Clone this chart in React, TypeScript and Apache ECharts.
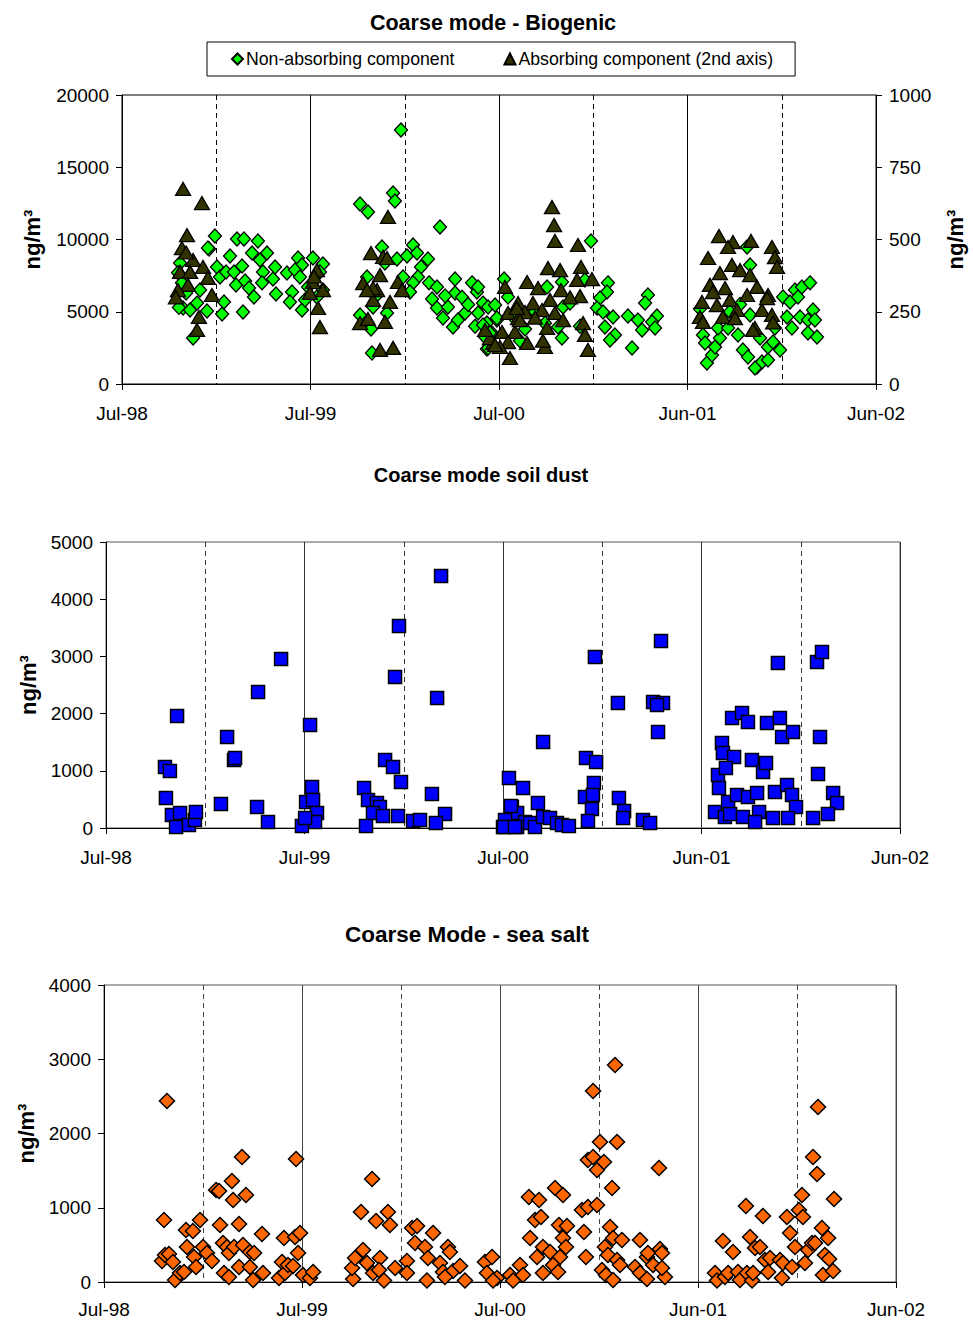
import React, { useEffect, useRef } from "react";
import * as echarts from "echarts";

// ---------- tick labels / titles ----------
const xTickLabels = ["Jul-98", "Jul-99", "Jul-00", "Jun-01", "Jun-02"];
const unitLabel = "ng/m³";
const titleBio = "Coarse mode - Biogenic";
const titleSoil = "Coarse mode soil dust";
const titleSalt = "Coarse Mode - sea salt";
const nameNonAbs = "Non-absorbing component";
const nameAbs = "Absorbing component (2nd axis)";

// x = years since Jul-98, y = concentration (ng/m3)
const bioNonAbsorbing: [number, number][] = [
  [0.493,10240],[0.462,9340],[0.504,8100],[0.308,8370],[0.318,7000],[0.324,5260],[0.361,5120],[0.377,3180],[0.398,5600],[0.414,6500],[0.451,5050],[0.531,4840],[0.541,5670],[0.520,7400],[0.552,7750],[0.573,8860],[0.594,7750],[0.610,10030],[0.647,10030],[0.721,9900],[0.690,9070],[0.637,8170],[0.605,6850],[0.653,7130],[0.674,6640],[0.700,6020],[0.642,4980],[0.732,8580],[0.769,9070],[0.748,7750],[0.801,7270],[0.812,8100],[0.743,7000],[0.817,6230],[0.875,7680],[0.902,6370],[0.891,5670],[0.934,8720],[0.955,8230],[0.918,7890],[0.944,7400],[1.013,8720],[1.066,8300],[0.955,5120],[0.987,6710],[0.971,5810],[1.066,6500],[1.034,6020],[1.050,7750],[0.340,6300],[0.297,7700],[0.456,9410],[0.302,5300],
  [1.263,12460],[1.305,11900],[1.480,17580],[1.438,13220],[1.448,12660],[1.687,10860],[1.379,9480],[1.459,8650],[1.512,8860],[1.544,9620],[1.565,9070],[1.623,8650],[1.586,8100],[1.570,7400],[1.491,7400],[1.544,7000],[1.528,6370],[1.629,7000],[1.671,6710],[1.645,5880],[1.671,5260],[1.703,4570],[1.729,5330],[1.767,7270],[1.756,3940],[1.782,4430],[1.767,6300],[1.820,4910],[1.857,7000],[1.883,6370],[1.889,4910],[1.915,5600],[1.936,4220],[1.942,3040],[1.936,2420],[1.989,4430],[1.963,3530],[1.263,4770],[1.300,7400],[1.332,5330],[1.321,3800],[1.326,2150],[1.406,4910],[1.353,6160],[1.395,8370],[1.804,6000],[1.836,5500],[1.873,4000],[1.714,6100],
  [2.488,9900],[2.027,7270],[1.889,6710],[1.915,4080],[1.942,5330],[1.979,5470],[1.989,4570],[1.926,3250],[1.952,3530],[1.942,2490],[2.048,6020],[2.340,5330],[2.313,3940],[2.334,3180],[2.578,7000],[2.573,6370],[2.536,5950],[2.520,5260],[2.552,4980],[2.605,4640],[2.562,3940],[2.615,3390],[2.589,3040],[2.684,4710],[2.706,2490],[2.790,6160],[2.775,5600],[2.838,4710],[2.812,4290],[2.737,4430],[2.759,3740],[2.828,3880],[2.334,7060],[2.255,6710],[2.456,7200],[2.085,4500],[2.138,3800],[2.191,5000],[2.244,4200],[2.111,3000],[2.430,4000],[2.377,5600],
  [3.332,8230],[3.316,9480],[3.082,3390],[3.093,2840],[3.103,1450],[3.130,2010],[3.146,2560],[3.172,3180],[3.162,3870],[3.215,3870],[3.268,3390],[3.294,2350],[3.321,1870],[3.369,1180],[3.395,1520],[3.427,1660],[3.427,2560],[3.454,2910],[3.491,2350],[3.385,3180],[3.332,4770],[3.464,3870],[3.507,6020],[3.544,5670],[3.570,6500],[3.607,6710],[3.650,7000],[3.586,6020],[3.528,4640],[3.554,3870],[3.597,4640],[3.639,4430],[3.666,5120],[3.676,4430],[3.639,3530],[3.687,3250],[3.358,1110],[3.225,5000],[3.279,5500],[3.066,5200],
];

// second axis (0-1000)
const bioAbsorbing: [number, number][] = [
  [0.324,675],[0.424,626],[0.345,515],[0.318,470],[0.377,429],[0.308,388],[0.361,388],[0.430,405],[0.456,367],[0.350,343],[0.297,325],[0.477,308],[0.408,232],[0.398,187],[0.340,455],[0.286,300],
  [1.034,394],[1.013,353],[1.066,325],[1.040,263],[1.050,197],[0.997,315],[1.019,372],
  [1.411,578],[1.321,453],[1.385,440],[1.406,436],[1.279,349],[1.369,377],[1.353,325],[1.464,353],[1.485,325],[1.422,284],[1.332,291],[1.263,211],[1.305,225],[1.395,215],[1.369,118],[1.438,125],[1.332,332],[1.300,325],
  [2.281,612],[2.292,550],[2.297,495],[2.419,481],[2.260,401],[2.324,394],[2.435,405],[2.149,353],[2.032,336],[2.207,332],[2.414,360],[2.493,363],[2.329,325],[2.430,304],[2.101,280],[2.180,280],[2.271,291],[2.048,246],[2.138,249],[2.228,256],[2.297,246],[2.101,228],[2.340,221],[2.016,180],[2.085,180],[2.255,194],[2.446,211],[2.149,142],[2.244,128],[2.456,170],[2.048,145],[2.472,118],[2.058,90],[2.005,128],[2.095,263],[2.111,221],[1.968,142],[1.952,159],[1.979,135],[1.926,187],[2.233,150],[2.191,230],[2.377,300],
  [3.167,512],[3.241,491],[3.337,495],[3.448,474],[3.109,436],[3.215,474],[3.464,439],[3.475,405],[3.172,384],[3.236,412],[3.279,394],[3.332,377],[3.119,343],[3.199,332],[3.135,318],[3.369,336],[3.316,308],[3.077,284],[3.156,273],[3.225,291],[3.427,308],[3.263,256],[3.066,232],[3.188,232],[3.252,228],[3.395,256],[3.448,239],[3.082,215],[3.358,194],[3.347,187],[3.422,297],[3.454,213],
];

const soilDust: [number, number][] = [
  [0.297,1066],[0.322,997],[0.358,1958],[0.302,524],[0.332,227],[0.373,262],[0.353,17],[0.418,52],[0.448,140],[0.453,280],[0.579,420],[0.610,1590],[0.645,1189],[0.650,1224],[0.766,2377],[0.761,367],[0.816,105],[0.882,2954],[1.028,1800],[1.038,717],[1.008,454],[1.043,489],[1.063,262],[1.053,105],[0.987,35],[1.003,175],
  [1.300,699],[1.320,489],[1.365,437],[1.380,367],[1.345,262],[1.395,210],[1.471,210],[1.310,35],[1.406,1189],[1.446,1066],[1.486,804],[1.456,2640],[1.476,3531],[1.688,4405],[1.668,2272],[1.642,594],[1.708,245],[1.547,122],[1.582,140],[1.662,87],
  [2.030,874],[2.101,699],[2.045,367],[2.071,262],[2.010,140],[2.000,17],[2.071,17],[2.111,105],[2.202,1503],[2.176,437],[2.040,385],[2.136,87],[2.161,17],[2.202,192],[2.237,175],[2.272,87],[2.297,52],[2.332,35],[2.005,17],[2.060,17],
  [2.463,2989],[2.418,1224],[2.469,1154],[2.458,787],[2.413,542],[2.453,577],[2.448,332],[2.428,122],[2.579,2185],[2.584,524],[2.610,297],[2.605,175],[2.705,140],[2.741,87],[2.796,3269],[2.756,2202],[2.806,2185],[2.776,2150],[2.781,1678],
  [3.068,280],[3.103,1486],[3.108,1311],[3.164,1241],[3.083,927],[3.123,1049],[3.088,699],[3.134,454],[3.118,192],[3.144,245],[3.179,577],[3.209,192],[3.234,542],[3.254,1189],[3.280,612],[3.290,280],[3.270,105],[3.310,979],[3.325,1136],[3.154,1923],[3.204,2010],[3.234,1853],[3.330,1835],[3.395,1923],[3.406,1590],[3.461,1678],[3.385,2884],[3.360,175],[3.370,629],[3.431,752],[3.456,577],[3.476,367],[3.436,175],[3.582,2902],[3.607,3077],[3.597,1590],[3.587,944],[3.663,612],[3.683,437],[3.637,245],[3.562,175],
];

const seaSalt: [number, number][] = [
  [0.318,2438],[0.303,835],[0.293,283],[0.308,364],[0.328,377],[0.348,269],[0.359,27],[0.384,121],[0.404,135],[0.419,472],[0.414,700],[0.449,687],[0.455,337],[0.465,202],[0.485,835],[0.500,472],[0.520,391],[0.545,283],[0.566,1239],[0.581,1226],[0.586,768],[0.601,525],[0.621,472],[0.631,391],[0.606,121],[0.631,67],[0.646,1360],[0.652,1105],[0.682,781],[0.657,472],[0.697,1684],[0.717,1172],[0.702,498],[0.682,202],[0.737,404],[0.758,391],[0.737,202],[0.753,27],[0.798,646],[0.803,121],[0.909,593],[0.899,269],[0.884,54],[0.914,121],[0.929,229],[0.955,215],[0.965,606],[0.990,660],[0.980,391],[0.970,1657],[1.005,94],[1.040,54],[1.056,135],
  [1.258,40],[1.253,189],[1.268,323],[1.308,431],[1.328,256],[1.359,121],[1.394,323],[1.389,162],[1.414,20],[1.298,943],[1.354,1387],[1.374,822],[1.434,943],[1.444,768],[1.470,189],[1.530,283],[1.530,121],[1.556,727],[1.581,754],[1.571,525],[1.621,472],[1.636,323],[1.631,20],[1.662,660],[1.697,256],[1.712,135],[1.737,472],[1.747,404],[1.763,148],[1.798,215],[1.823,20],[1.722,67],
  [1.924,269],[1.960,337],[1.934,121],[1.985,54],[1.965,20],[2.051,94],[2.066,20],[2.101,229],[2.116,94],[2.146,1145],[2.197,1105],[2.177,835],[2.207,876],[2.152,593],[2.217,472],[2.187,337],[2.217,121],[2.253,404],[2.278,1266],[2.318,1172],[2.298,768],[2.338,754],[2.318,593],[2.333,472],[2.303,337],[2.268,229],[2.293,135],[2.414,970],[2.444,1010],[2.490,1037],[2.424,673],[2.434,337],[2.470,2573],[2.581,2923],[2.444,1643],[2.470,1684],[2.490,1509],[2.525,1616],[2.505,1886],[2.591,1886],[2.566,1266],[2.556,741],[2.571,593],[2.616,566],[2.530,472],[2.545,364],[2.591,296],[2.606,229],[2.515,162],[2.535,94],[2.571,27],[2.707,566],[2.682,202],[2.707,121],[2.742,337],[2.747,391],[2.773,229],[2.742,40],[2.808,445],[2.818,391],[2.833,67],[2.803,1536],[2.818,189],
  [3.126,552],[3.177,404],[3.086,121],[3.096,20],[3.136,67],[3.152,121],[3.202,135],[3.212,27],[3.247,121],[3.273,20],[3.278,121],[3.242,1024],[3.328,889],[3.263,606],[3.288,458],[3.313,472],[3.338,296],[3.364,323],[3.354,135],[3.414,296],[3.429,256],[3.424,54],[3.475,202],[3.449,876],[3.465,660],[3.490,472],[3.510,970],[3.525,1172],[3.530,876],[3.540,256],[3.556,431],[3.576,525],[3.591,525],[3.626,727],[3.657,593],[3.641,364],[3.662,310],[3.631,94],[3.682,148],[3.687,1118],[3.581,1684],[3.601,1455],[3.606,2357],
];

const FONT = "'Liberation Sans', Arial, Helvetica, sans-serif";

function makeXAxis(gridIndex: number, gridColor: string, labelMargin: number) {
  return {
    type: "value",
    gridIndex,
    min: 0,
    max: 4,
    interval: 1,
    axisLine: { show: true, onZero: false, lineStyle: { color: "#000", width: 1 } },
    axisTick: { show: true, inside: false, length: 6, lineStyle: { color: "#000", width: 1 } },
    axisLabel: {
      margin: labelMargin,
      color: "#000",
      fontFamily: FONT,
      fontSize: 19,
      lineHeight: 19,
      formatter: (v: number) => xTickLabels[Math.round(v)] ?? "",
    },
    splitLine: { show: true, lineStyle: { color: gridColor, width: 1 } },
    minorTick: { show: false, splitNumber: 2 },
    minorSplitLine: { show: true, lineStyle: { color: gridColor, width: 1, type: [5, 4] } },
  };
}

function makeYAxis(gridIndex: number, max: number, interval: number, position: string, nameGap: number) {
  return {
    type: "value",
    gridIndex,
    position,
    min: 0,
    max,
    interval,
    name: unitLabel,
    nameLocation: "middle",
    nameRotate: 90,
    nameGap,
    nameTextStyle: { fontFamily: FONT, fontSize: 22, fontWeight: "bold", color: "#000" },
    axisLine: { show: true, lineStyle: { color: "#000", width: 1 } },
    axisTick: { show: true, inside: false, length: 6, lineStyle: { color: "#000", width: 1 } },
    axisLabel: {
      margin: 13,
      color: "#000",
      fontFamily: FONT,
      fontSize: 19,
      formatter: (v: number) => String(v),
    },
    splitLine: { show: false },
  };
}

function titleText(text: string, x: number, y: number, size: number) {
  return {
    type: "text",
    x,
    y,
    style: {
      text,
      align: "center",
      verticalAlign: "middle",
      textAlign: "center",
      textVerticalAlign: "middle",
      fontFamily: FONT,
      fontSize: size,
      fontWeight: "bold",
      fill: "#000",
    },
  };
}

const gridBase = { show: true, borderWidth: 1, backgroundColor: "transparent", containLabel: false, outerBoundsMode: "none" };

export default function App() {
  const ref = useRef<HTMLDivElement>(null);

  useEffect(() => {
    document.body.style.margin = "0";
    if (!ref.current) return;
    const chart = echarts.init(ref.current, null, { renderer: "svg" });
    const option: any = {
      animation: false,
      backgroundColor: "#fff",
      textStyle: { fontFamily: FONT },
      graphic: [
        titleText(titleBio, 493, 23, 21.5),
        titleText(titleSoil, 481, 475, 20),
        titleText(titleSalt, 467, 934, 22.5),
      ],
      legend: {
        left: 207,
        top: 42,
        orient: "horizontal",
        data: [nameNonAbs, nameAbs],
        padding: [8, 22, 8, 24],
        itemGap: 49,
        itemWidth: 11,
        itemHeight: 11,
        borderColor: "#000",
        borderWidth: 1,
        textStyle: { fontFamily: FONT, fontSize: 17.7, color: "#000", padding: [0, 0, 0, -2] },
      },
      grid: [
        { ...gridBase, left: 122, top: 95, width: 754, height: 289, borderColor: "#000" },
        { ...gridBase, left: 106, top: 542, width: 794, height: 286, borderColor: "#555" },
        { ...gridBase, left: 104, top: 985, width: 792, height: 297, borderColor: "#555" },
      ],
      xAxis: [makeXAxis(0, "#000", 20), makeXAxis(1, "#333", 20), makeXAxis(2, "#444", 18)],
      yAxis: [
        makeYAxis(0, 20000, 5000, "left", 79),
        makeYAxis(0, 1000, 250, "right", 68),
        makeYAxis(1, 5000, 1000, "left", 65),
        makeYAxis(2, 4000, 1000, "left", 65),
      ],
      series: [
        {
          name: nameNonAbs,
          type: "scatter",
          xAxisIndex: 0,
          yAxisIndex: 0,
          symbol: "diamond",
          symbolSize: [13, 14],
          itemStyle: { color: "#00ff00", borderColor: "#000", borderWidth: 1.3, opacity: 1 },
          data: bioNonAbsorbing,
        },
        {
          name: nameAbs,
          type: "scatter",
          xAxisIndex: 0,
          yAxisIndex: 1,
          symbol: "triangle",
          symbolSize: [15, 13],
          itemStyle: { color: "#333300", borderColor: "#000", borderWidth: 1.3, opacity: 1 },
          data: bioAbsorbing,
        },
        {
          name: "Soil dust",
          type: "scatter",
          xAxisIndex: 1,
          yAxisIndex: 2,
          symbol: "rect",
          symbolSize: 13,
          itemStyle: { color: "#0000ff", borderColor: "#000", borderWidth: 1.5, opacity: 1 },
          data: soilDust,
        },
        {
          name: "Sea salt",
          type: "scatter",
          xAxisIndex: 2,
          yAxisIndex: 3,
          symbol: "diamond",
          symbolSize: [15, 15],
          itemStyle: { color: "#ff6600", borderColor: "#000", borderWidth: 1.5, opacity: 1 },
          data: seaSalt,
        },
      ],
    };
    chart.setOption(option);
    return () => chart.dispose();
  }, []);

  return <div ref={ref} style={{ width: 973, height: 1320 }} />;
}
